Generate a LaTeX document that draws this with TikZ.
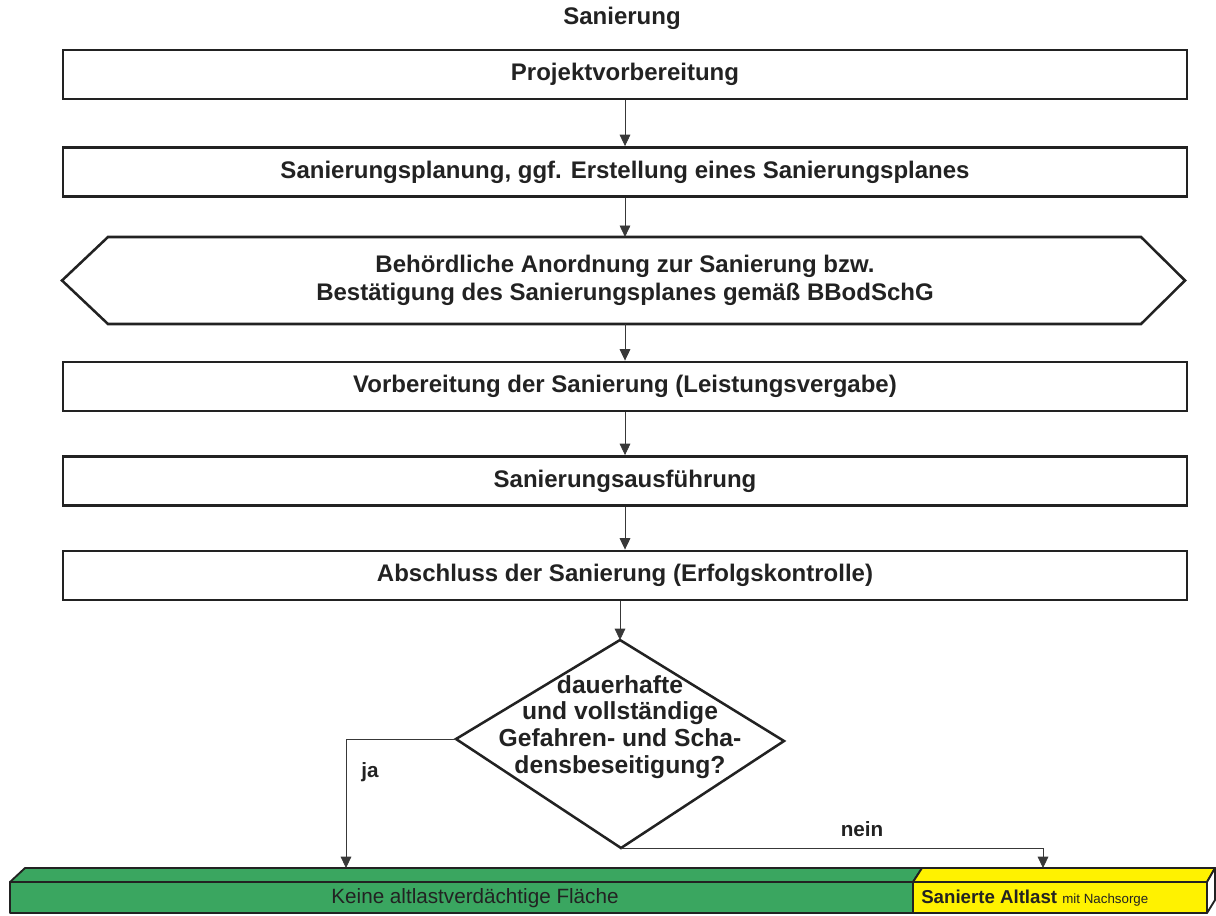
\documentclass[tikz,border=0pt]{standalone}
\usepackage{fontspec}
\setmainfont{Liberation Sans}
\usetikzlibrary{arrows.meta}
\definecolor{ink}{HTML}{222222}
\definecolor{barGreen}{RGB}{58,166,96}
\definecolor{barYellow}{RGB}{255,242,0}
\tikzset{
  stepbox/.style={draw=ink, line width=1.9pt, minimum width=843pt, minimum height=37pt, inner sep=0pt,
    font=\fontsize{18}{21}\selectfont\bfseries, text=ink},
  lbl/.style={inner sep=0pt, text=ink, align=center},
  arr/.style={draw=ink!90, line width=0.6pt, -{Triangle[length=8.5pt,width=8pt]}},
  outline/.style={draw=ink, line width=1.9pt, line join=miter},
  barline/.style={draw=ink, line width=1.4pt, line join=round}
}
\begin{document}
\begin{tikzpicture}[x=0.75pt,y=-0.75pt]
\useasboundingbox (0,0) rectangle (1216,916);

% title
\node[lbl, font=\fontsize{18}{21}\selectfont\bfseries] (title) at (622,18) {Sanierung};

% boxes
\node[stepbox] (b1) at (625,74.5) {\raisebox{-2pt}{Projektvorbereitung}};
\node[stepbox] (b2) at (625,172) {Sanierungsplanung, ggf. Erstellung eines Sanierungsplanes};

% hexagon
\draw[outline] (62,280.5) -- (108,237) -- (1141,237) -- (1185,280.5) -- (1141,324) -- (108,324) -- cycle;
\node[lbl, font=\fontsize{18}{21}\selectfont\bfseries, minimum height=65pt] (hex) at (625,280.5)
  {Behördliche Anordnung zur Sanierung bzw.\\Bestätigung des Sanierungsplanes gemäß BBodSchG};

\node[stepbox] (b3) at (625,386.5) {Vorbereitung der Sanierung (Leistungsvergabe)};
\node[stepbox] (b4) at (625,481) {Sanierungsausführung};
\node[stepbox] (b5) at (625,575.5) {Abschluss der Sanierung (Erfolgskontrolle)};

% decision diamond
\coordinate (dtop) at (620,640);
\coordinate (dleft) at (456,739);
\coordinate (dright) at (784,741);
\coordinate (dbot) at (621,848);
\draw[outline] (dtop) -- (dright) -- (dbot) -- (dleft) -- cycle;
\node[lbl, font=\fontsize{18.5}{20}\selectfont\bfseries] (dec) at (620,727)
  {dauerhafte\\und vollständige\\Gefahren- und Scha-\\densbeseitigung?};

% bottom bar
\draw[barline, fill=barGreen] (10,882) -- (25,868) -- (922,868) -- (913,882) -- cycle;
\draw[barline, fill=barYellow] (913,882) -- (922,868) -- (1215,868) -- (1207,882) -- cycle;
\draw[barline, fill=white] (1207,882) -- (1215,868) -- (1215,900) -- (1207,913) -- cycle;
\draw[barline, fill=barGreen] (10,882) rectangle (913,913);
\draw[barline, fill=barYellow] (913,882) rectangle (1207,913);
\node[lbl, font=\fontsize{15.5}{18}\selectfont] (keine) at (475,898) {Keine altlastverdächtige Fläche};
\node[lbl, anchor=west, font=\fontsize{14}{16}\selectfont\bfseries] (san) at (921,898)
  {Sanierte Altlast \fontsize{10}{12}\selectfont\mdseries mit Nachsorge};
\coordinate (jaEnd) at (346,868);
\coordinate (neinEnd) at (1043,868);

% connectors
\draw[arr] (b1.south) -- (b2.north);
\draw[arr] (b2.south) -- (hex.north);
\draw[arr] (hex.south) -- (b3.north);
\draw[arr] (b3.south) -- (b4.north);
\draw[arr] (b4.south) -- (b5.north);
\draw[arr] (b5.south -| dtop) -- (dtop);
\draw[arr] (dleft) -| (jaEnd);
\draw[arr] (dbot) -| (neinEnd);

% branch labels
\node[lbl, font=\fontsize{15.5}{18}\selectfont\bfseries] (ja) at (370,772) {ja};
\node[lbl, font=\fontsize{15.5}{18}\selectfont\bfseries] (nein) at (862,829) {nein};
\end{tikzpicture}
\end{document}
